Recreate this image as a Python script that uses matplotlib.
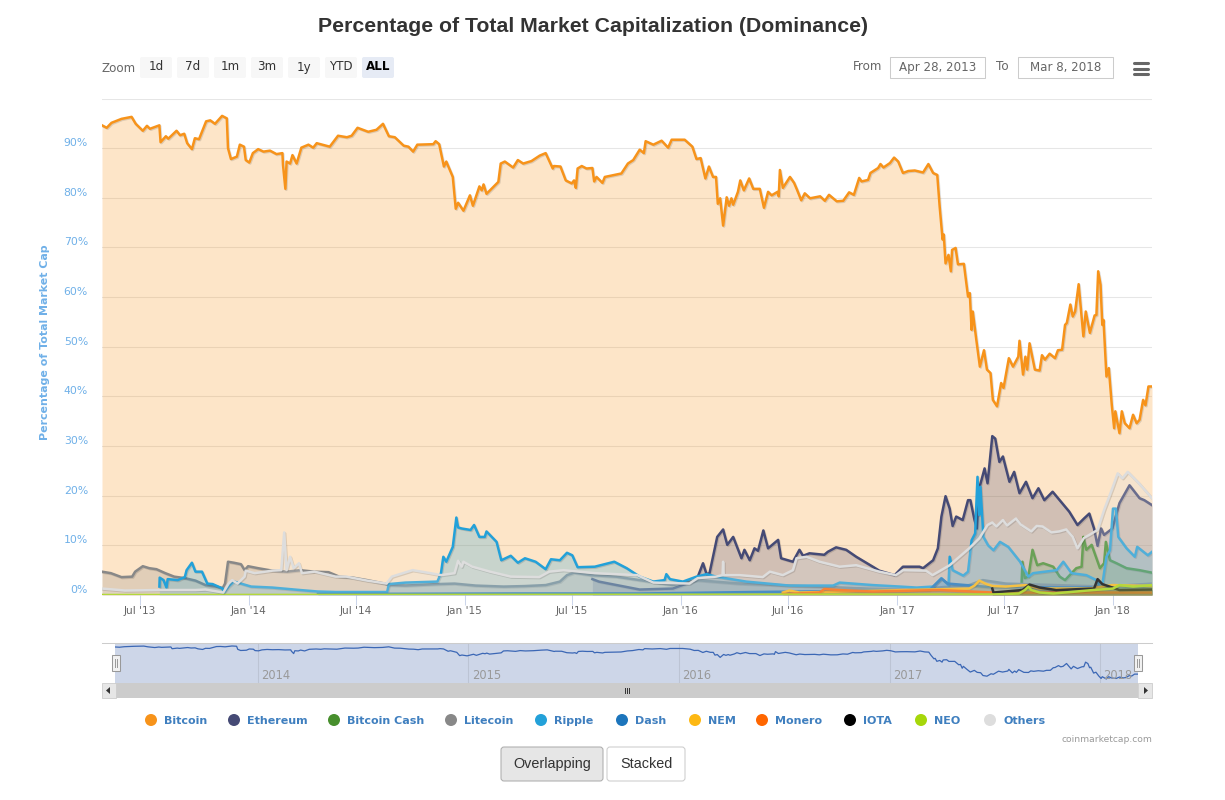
import numpy as np
import matplotlib
matplotlib.use('Agg')
import matplotlib.pyplot as plt
import matplotlib.patheffects as pe
from matplotlib.patches import FancyBboxPatch, Rectangle, Circle

W, H = 1225, 800

# all series: days since Apr 28 2013, percent of market cap
btc_day = [0, 8, 16, 33, 50, 57, 69, 76, 81, 97, 99, 108, 112, 126, 132, 139, 144, 152, 157, 164, 176, 183, 191, 203, 211, 213, 218, 228, 233, 240, 243, 249, 255, 264, 273, 284, 295, 305, 306, 310, 312, 318, 322, 329, 337, 349, 357, 363, 385, 399, 414, 422, 432, 450, 464, 475, 485, 495, 510, 518, 526, 533, 560, 564, 570, 578, 582, 593, 598, 602, 611, 622, 627, 638, 642, 645, 650, 670, 674, 681, 695, 703, 712, 726, 740, 750, 762, 764, 775, 784, 794, 798, 801, 804, 811, 819, 829, 832, 836, 846, 850, 870, 878, 889, 898, 909, 916, 919, 932, 946, 957, 963, 985, 998, 1005, 1012, 1020, 1026, 1033, 1038, 1041, 1045, 1050, 1056, 1060, 1064, 1067, 1075, 1079, 1085, 1094, 1101, 1112, 1119, 1126, 1132, 1142, 1144, 1146, 1151, 1163, 1170, 1175, 1182, 1188, 1197, 1214, 1222, 1229, 1242, 1253, 1263, 1271, 1280, 1284, 1295, 1299, 1312, 1316, 1321, 1332, 1339, 1346, 1354, 1363, 1374, 1388, 1397, 1405, 1412, 1416, 1421, 1423, 1426, 1431, 1435, 1437, 1443, 1447, 1457, 1464, 1467, 1470, 1472, 1478, 1484, 1491, 1496, 1502, 1506, 1513, 1520, 1524, 1533, 1540, 1549, 1551, 1557, 1561, 1564, 1568, 1577, 1585, 1589, 1594, 1602, 1611, 1616, 1623, 1628, 1631, 1637, 1641, 1645, 1651, 1659, 1663, 1670, 1678, 1681, 1684, 1688, 1691, 1693, 1698, 1702, 1704, 1707, 1711, 1713, 1720, 1724, 1729, 1737, 1743, 1749, 1754, 1760, 1764, 1769, 1775]
btc_pct = [94.6, 94.1, 95.1, 95.9, 96.3, 94.9, 93.5, 94.5, 93.9, 94.6, 91.2, 92.4, 91.9, 93.5, 92.6, 92.9, 91.0, 89.8, 92, 91.8, 95.4, 95.6, 94.9, 96.5, 96, 90, 87.8, 88.3, 90.7, 90.3, 87.6, 87.1, 89, 89.8, 89.3, 89.5, 88.8, 89, 86.6, 81.8, 87.3, 86.9, 88.6, 86.9, 90.1, 90.7, 90.1, 91, 90.3, 92.5, 92.2, 92.5, 94.1, 93.3, 93.7, 94.9, 92.4, 92.2, 90.5, 90.3, 89.3, 90.7, 90.8, 91.4, 90.8, 86.3, 87.3, 84.2, 77.8, 79, 77.4, 80.5, 78.4, 82.3, 81.5, 82.7, 80.8, 83.2, 86.9, 87.3, 86.1, 87.6, 86.9, 87.4, 88.5, 89, 85.9, 86.4, 86.3, 83.5, 82.9, 83.5, 82, 85.9, 86.4, 85.9, 86, 83.3, 84.2, 83, 84.2, 84.7, 84.9, 86.9, 87.6, 89.7, 89, 91.4, 90.7, 91.5, 90.1, 91.7, 91.7, 90.3, 87.8, 88, 83.9, 86.3, 84.2, 84.2, 78.8, 79.9, 74.4, 80.1, 78.4, 79.9, 78.6, 81.2, 83.5, 81.5, 83.9, 81.8, 81.8, 78, 81.2, 80.5, 81.2, 80.3, 85.6, 82, 84.2, 83, 81.6, 79.5, 80.9, 79.9, 80.3, 79.4, 80.6, 79.3, 79.4, 81.1, 80.6, 84, 83.3, 83.6, 85, 86, 86.8, 86.1, 87, 88.1, 87.3, 85, 85.4, 85.5, 85.1, 86.8, 85, 84.6, 78.3, 71.6, 72.6, 66.8, 68.5, 65.2, 69.5, 69.9, 66.6, 66.7, 60.1, 60.8, 53.4, 57.1, 51.4, 46, 49.3, 45.4, 44.7, 39.3, 38, 42.7, 41.7, 47.7, 46, 48, 51.2, 44.4, 48, 45.4, 50.7, 45.4, 45.2, 48.3, 47.4, 48.6, 47.7, 49.3, 49.4, 54.4, 54.8, 58.5, 56.1, 57.1, 62.6, 52.1, 57.1, 52.8, 56.3, 56.4, 65.2, 62.5, 54.4, 55.4, 44, 45.7, 42.7, 38.3, 33.6, 37, 32.6, 37, 34.6, 33.6, 36.3, 34.6, 35.3, 39.3, 38.2, 42, 42]

eth_day = [829, 840, 857, 909, 965, 1005, 1016, 1022, 1027, 1040, 1050, 1057, 1067, 1081, 1086, 1095, 1103, 1109, 1118, 1126, 1143, 1148, 1168, 1179, 1185, 1196, 1221, 1227, 1241, 1258, 1275, 1303, 1314, 1340, 1354, 1382, 1388, 1405, 1413, 1419, 1426, 1433, 1438, 1444, 1455, 1464, 1468, 1475, 1479, 1483, 1492, 1497, 1505, 1510, 1517, 1523, 1534, 1542, 1551, 1562, 1573, 1583, 1593, 1607, 1635, 1649, 1660, 1669, 1677, 1683, 1689, 1694, 1708, 1720, 1737, 1754, 1762, 1775]
eth_pct = [3.2, 2.7, 2.3, 1.1, 1.3, 3, 6.4, 4.2, 4.4, 11.7, 13.2, 10.1, 11.7, 7.4, 9.1, 7, 9.4, 8.9, 13, 9.4, 11.1, 7.4, 6.7, 9.1, 7.9, 8.4, 8.1, 8.7, 9.6, 9.1, 7.7, 5.7, 4.9, 4, 5.7, 5.7, 5.4, 7, 9.4, 15.8, 19.9, 17.4, 13.9, 15.8, 15.1, 19.1, 19.1, 15.1, 13.4, 21.5, 25.5, 22.5, 32, 31.5, 26.8, 27.9, 22.8, 24.8, 20.5, 22.8, 19.5, 21.5, 19.1, 20.8, 16.8, 14.1, 15.4, 16.4, 13.4, 9.9, 13.4, 12.1, 13.4, 18.5, 22.1, 19.5, 19.1, 18.1]

bch_day = [1554, 1556, 1560, 1566, 1573, 1581, 1591, 1608, 1619, 1628, 1647, 1656, 1659, 1664, 1673, 1687, 1694, 1697, 1704, 1715, 1732, 1754, 1775]
bch_pct = [1, 6.7, 3.4, 3.7, 9.1, 6, 6.4, 5.7, 3.7, 3, 5.4, 5.7, 11.7, 9.1, 10.1, 5.4, 6.4, 10.7, 7, 6.4, 5.4, 5, 4.5]

ltc_day = [0, 15, 33, 51, 56, 69, 80, 92, 107, 122, 140, 158, 175, 193, 204, 208, 213, 223, 235, 241, 247, 264, 288, 312, 335, 359, 383, 401, 424, 448, 478, 484, 513, 567, 596, 632, 679, 715, 750, 774, 786, 798, 827, 869, 909, 965, 1005, 1078, 1360, 1466, 1489, 1528, 1697, 1775]
ltc_pct = [4.7, 4.4, 3.6, 3.7, 4.7, 5.8, 5.4, 5.2, 4.4, 3.7, 3.4, 2.9, 2, 1.7, 1.4, 2.3, 6.7, 6.5, 6.2, 5, 5.8, 5.4, 4.9, 4.7, 5, 4.7, 4.6, 3.7, 3.5, 3, 2.3, 2, 1.9, 2.2, 2.3, 1.9, 1.7, 1.8, 2, 2.7, 4, 4.5, 4, 3.7, 3, 2, 3, 2.3, 1, 2, 3, 2.3, 1.7, 2.3]

xrp_day = [97, 97.5, 104, 109, 111, 128, 140, 143, 152, 158, 169, 178, 187, 204, 206, 214, 223, 235, 252, 288, 335, 365, 395, 454, 482, 485, 513, 567, 573, 577, 582, 593, 599, 602, 608, 623, 629, 638, 647, 650, 667, 675, 691, 703, 715, 733, 750, 759, 774, 786, 795, 804, 833, 866, 887, 909, 932, 951, 954, 960, 982, 1005, 1022, 1038, 1089, 1162, 1236, 1247, 1303, 1349, 1377, 1405, 1419, 1431, 1433, 1438, 1456, 1464, 1470, 1476, 1480, 1483, 1485, 1490, 1498, 1507, 1518, 1532, 1552, 1566, 1574, 1614, 1625, 1639, 1664, 1681, 1690, 1698, 1704, 1709, 1714, 1718, 1732, 1746, 1750, 1768, 1775]
xrp_pct = [1.7, 3.5, 3, 1.5, 3.2, 3, 3.6, 5, 6.5, 4.7, 4.7, 2.3, 2.2, 1.3, 0.5, 1.7, 2.7, 2.3, 1.7, 1.5, 1, 0.7, 0.6, 0.6, 0.6, 2.2, 2.5, 2.7, 4.4, 7.7, 6.7, 9.7, 15.6, 13.6, 13.4, 13.1, 14.1, 11.7, 11.7, 12.8, 10.7, 7, 7.9, 6.5, 7.4, 6.7, 5.2, 7.2, 7, 8.5, 8, 5.6, 5.7, 6.7, 5.4, 3.7, 2.7, 3, 4.2, 3.2, 2.7, 3.7, 4.2, 3.7, 2.7, 1.9, 1.9, 2.5, 2, 1.7, 1.5, 1.7, 3.4, 2, 7.7, 5, 3.9, 4.7, 11, 12.4, 23.8, 16.1, 21.8, 11.7, 10, 9, 10.7, 9.7, 6.7, 3.7, 4.4, 5, 6.7, 4.4, 4, 3, 1.3, 7.7, 9, 17.4, 17.4, 11.7, 9.4, 7.7, 9.7, 8, 8.7]

dash_day = [365, 700, 909, 1100, 1350, 1399, 1419, 1430, 1500, 1640, 1775]
dash_pct = [0.2, 0.3, 0.3, 0.6, 0.9, 1.0, 3.3, 2.3, 1.6, 1.5, 1.5]

nem_day = [1151, 1162, 1179, 1360, 1466, 1475, 1483, 1495, 1506, 1528, 1562, 1585, 1669, 1708, 1775]
nem_pct = [0.5, 0.9, 0.5, 1, 1.3, 1.9, 2.9, 2.2, 1.8, 1.7, 2, 1.3, 1.3, 2, 1.8]

xmr_day = [1151, 1213, 1221, 1247, 1303, 1416, 1506, 1775]
xmr_pct = [0.2, 0.5, 1.2, 1, 0.7, 1, 0.5, 0.5]

iota_day = [1505, 1507, 1556, 1568, 1585, 1613, 1677, 1683, 1691, 1708, 1720, 1775]
iota_pct = [1.3, 0.5, 1, 2.1, 1.5, 1, 1.3, 3.2, 2.2, 1.5, 1, 1.1]

neo_day = [0, 1505, 1550, 1560, 1566, 1571, 1585, 1608, 1647, 1675, 1709, 1720, 1743, 1775]
neo_pct = [0, 0.1, 0.3, 1, 1.7, 1, 0.5, 0.3, 0.7, 1, 1.3, 2, 1.7, 2]

oth_day = [0, 39, 98, 158, 175, 205, 214, 220, 229, 241, 243, 258, 288, 303, 308, 312, 318, 324, 333, 338, 359, 395, 413, 448, 481, 490, 525, 555, 573, 596, 602, 608, 611, 626, 656, 691, 739, 756, 780, 833, 905, 932, 993, 1007, 1038, 1049, 1050, 1051, 1078, 1117, 1129, 1151, 1168, 1174, 1191, 1213, 1247, 1275, 1314, 1342, 1354, 1393, 1404, 1433, 1466, 1483, 1497, 1505, 1512, 1523, 1530, 1545, 1553, 1571, 1580, 1590, 1605, 1618, 1630, 1641, 1649, 1660, 1669, 1683, 1694, 1708, 1717, 1725, 1734, 1753, 1775]
oth_pct = [1.3, 0.9, 1, 1, 1.1, 0.5, 2.3, 3, 2.3, 3.7, 4.9, 4.4, 4.9, 5, 12.6, 5, 7.7, 5.4, 6.4, 4.4, 4.7, 3.7, 3.7, 2.9, 2.3, 3.7, 5, 4.4, 4, 4.4, 6.9, 5.7, 6.7, 5.7, 4.7, 3.7, 3.6, 4.7, 5, 4.4, 4, 2.5, 2.3, 3.4, 3.7, 4, 6.7, 4, 4, 3.6, 4.7, 4, 5, 7.4, 7.7, 6.7, 5.7, 6, 4.7, 4, 5, 4.9, 4, 6, 9.4, 11.4, 14.1, 14.6, 13.8, 15.1, 14, 15.4, 14.2, 12.8, 13.9, 13.8, 12.6, 12.8, 13.2, 11.7, 9.4, 11.5, 12.1, 13.1, 17.1, 21.5, 24.5, 23.5, 24.8, 22.5, 19.5]

names = ['Bitcoin', 'Ethereum', 'Bitcoin Cash', 'Litecoin', 'Ripple', 'Dash', 'NEM', 'Monero', 'IOTA', 'NEO', 'Others']
colors = ['#f7931a', '#454a75', '#478f2d', '#888888', '#23a1d9', '#1c75bc', '#fdb813', '#ff6600', '#000000', '#a6d70a', '#dddddd']
days = [btc_day, eth_day, bch_day, ltc_day, xrp_day, dash_day, nem_day, xmr_day, iota_day, neo_day, oth_day]
pcts = [btc_pct, eth_pct, bch_pct, ltc_pct, xrp_pct, dash_pct, nem_pct, xmr_pct, iota_pct, neo_pct, oth_pct]

start = np.datetime64('2013-04-28')
end = np.datetime64('2018-03-08')
tick_dates = ['2013-07-01', '2014-01-01', '2014-07-01', '2015-01-01', '2015-07-01', '2016-01-01', '2016-07-01', '2017-01-01', '2017-07-01', '2018-01-01']
tick_labels = ["Jul '13", "Jan '14", "Jul '14", "Jan '15", "Jul '15", "Jan '16", "Jul '16", "Jan '17", "Jul '17", "Jan '18"]
year_dates = ['2014-01-01', '2015-01-01', '2016-01-01', '2017-01-01', '2018-01-01']
year_labels = ['2014', '2015', '2016', '2017', '2018']
y_ticks = [0, 10, 20, 30, 40, 50, 60, 70, 80, 90]


def to_day(d):
    return (np.datetime64(d) - start) / np.timedelta64(1, 'D')


def axes_px(x0, y0, x1, y1):
    return fig.add_axes([x0 / W, 1 - y1 / H, (x1 - x0) / W, (y1 - y0) / H])


fig = plt.figure(figsize=(W / 100, H / 100), dpi=100, facecolor='white')
span = to_day(end)

# main chart
ax = axes_px(102, 98.5, 1152, 595)
ax.set_xlim(0, span)
ax.set_ylim(0, 100)
ax.patch.set_alpha(0)
for s in ax.spines.values():
    s.set_visible(False)
ax.set_yticks(np.arange(0, 101, 10))
ax.yaxis.grid(True, color='#e6e6e6', lw=0.75)
ax.set_axisbelow(True)
ax.tick_params(axis='y', length=0, labelleft=False)
ax.set_xticks([to_day(d) for d in tick_dates])
ax.set_xticklabels(tick_labels, fontsize=7.6, color='#666666', family='DejaVu Sans')
ax.tick_params(axis='x', length=7.2, width=0.75, color='#ccd6eb', pad=0.7)

shadow = [pe.SimpleLineShadow(offset=(0.7, -0.7), alpha=0.12, shadow_color='black'), pe.Normal()]
for i in range(len(names)):
    ax.fill_between(days[i], 0, pcts[i], color=colors[i], alpha=0.24, lw=0, zorder=2 + i)
    ax.plot(days[i], pcts[i], color=colors[i], lw=1.8, solid_joinstyle='round',
            path_effects=shadow, zorder=2.5 + i)

# navigator
nav = axes_px(115, 643, 1138, 683)
nav.set_xlim(0, span)
nav.set_ylim(24.8, 102.3)
nav.set_facecolor('#cdd6e8')
nav.set_xticks([])
nav.set_yticks([])
for s in nav.spines.values():
    s.set_visible(False)
for d, lab in zip(year_dates, year_labels):
    nav.axvline(to_day(d), color='#bcc4d4', lw=0.75)
    nav.text(to_day(d) + 6, 27.5, lab, fontsize=8.3, color='#999999', va='bottom', ha='left')
nav.plot(btc_day, btc_pct, color='#3b67b5', lw=0.9)

# everything that is page furniture goes on an overlay in pixel coordinates
ui = fig.add_axes([0, 0, 1, 1], zorder=10)
ui.set_xlim(0, W)
ui.set_ylim(H, 0)
ui.axis('off')

ui.text(593, 27, 'Percentage of Total Market Capitalization (Dominance)', ha='center', va='center',
        fontsize=15.3, color='#333333', family='Liberation Sans', fontweight='bold')

for v in y_ticks:
    ui.text(88, 595 - v * 4.965 - 5, f'{v}%', ha='right', va='center', fontsize=7.8, color='#6fb0e8')
ui.text(45, 342, 'Percentage of Total Market Cap', rotation=90, ha='center', va='center',
        fontsize=7.9, color='#6fb0e8', fontweight='bold')

# range selector
ui.text(102, 68, 'Zoom', ha='left', va='center', fontsize=8.6, color='#666666')
zoom_buttons = ['1d', '7d', '1m', '3m', '1y', 'YTD', 'ALL']
for i, lab in enumerate(zoom_buttons):
    x0 = 140 + i * 37
    active = lab == 'ALL'
    ui.add_patch(FancyBboxPatch((x0 + 2, 59), 28, 17, boxstyle='round,pad=2', lw=0,
                                fc='#e6ebf5' if active else '#f7f7f7'))
    ui.text(x0 + 16, 67, lab, ha='center', va='center', fontsize=8.6,
            color='black' if active else '#333333', fontweight='bold' if active else 'normal')

ui.text(853, 67, 'From', ha='left', va='center', fontsize=8.6, color='#666666')
ui.text(996, 67, 'To', ha='left', va='center', fontsize=8.6, color='#666666')
for x0, lab in [(890, 'Apr 28, 2013'), (1018, 'Mar 8, 2018')]:
    ui.add_patch(Rectangle((x0, 57), 95, 21, fc='white', ec='#cccccc', lw=0.75))
    ui.text(x0 + 47.5, 67, lab, ha='center', va='center', fontsize=8.6, color='#666666')
for y in [63, 68.5, 74]:
    ui.plot([1134, 1148], [y, y], color='#666666', lw=2.2, solid_capstyle='round')

# navigator frame, handles and scrollbar
ui.plot([102, 1152], [643, 643], color='#cccccc', lw=0.75)
ui.add_patch(Rectangle((115, 683), 1023, 15, fc='#cccccc', lw=0))
for x0, tri in [(102, [(110, 687), (110, 694), (106, 690.5)]), (1138, [(1144, 687), (1144, 694), (1148, 690.5)])]:
    ui.add_patch(Rectangle((x0, 683), 13.5, 15, fc='#e6e6e6', ec='#cccccc', lw=0.6))
    ui.add_patch(plt.Polygon(tri, fc='#333333', lw=0))
for x in [624.5, 626.5, 628.5]:
    ui.plot([x, x], [688, 693], color='#333333', lw=0.7)
for xc in [115.5, 1137.5]:
    ui.add_patch(Rectangle((xc - 4, 655), 8, 16, fc='#f2f2f2', ec='#999999', lw=0.75))
    ui.plot([xc - 1, xc - 1], [659, 667], color='#999999', lw=0.7)
    ui.plot([xc + 1, xc + 1], [659, 667], color='#999999', lw=0.7)

# legend
legend_dot_x = [151, 234, 334, 451, 541, 622, 695, 762, 850, 921, 990]
for x, name, c in zip(legend_dot_x, names, colors):
    ui.add_patch(Circle((x, 720), 6, fc=c, lw=0))
    ui.text(x + 13, 720.5, name, ha='left', va='center', fontsize=8.0, color='#3f7fbf', fontweight='bold')

ui.text(1152, 739, 'coinmarketcap.com', ha='right', va='center', fontsize=6.6, color='#999999')

# overlapping / stacked buttons
ui.add_patch(FancyBboxPatch((504, 750), 96, 28, boxstyle='round,pad=3', fc='#e6e6e6', ec='#adadad', lw=0.75))
ui.add_patch(FancyBboxPatch((610, 750), 72, 28, boxstyle='round,pad=3', fc='white', ec='#cccccc', lw=0.75))
ui.text(552, 764, 'Overlapping', ha='center', va='center', fontsize=10.4, color='#333333', family='Liberation Sans')
ui.text(646, 764, 'Stacked', ha='center', va='center', fontsize=10.4, color='#333333', family='Liberation Sans')

fig.savefig('out.png', dpi=100)
